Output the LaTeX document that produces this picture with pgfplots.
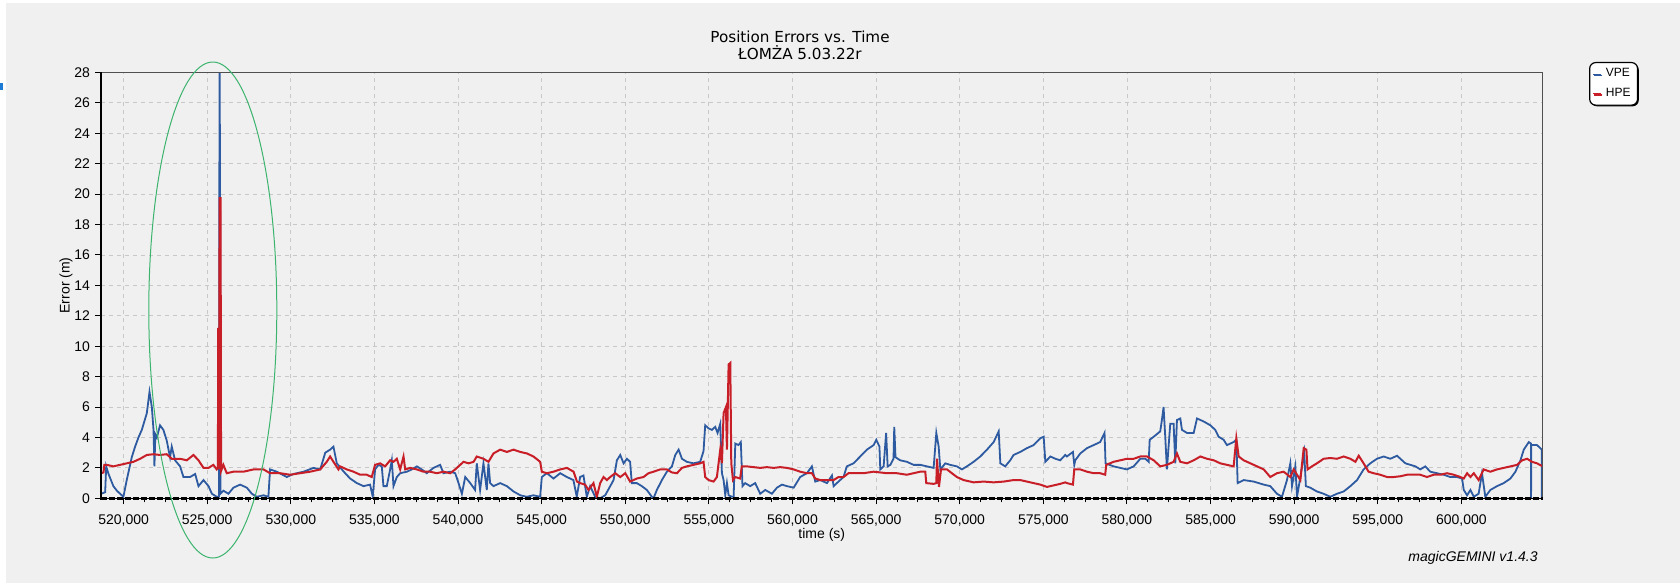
\documentclass[border=0pt]{standalone}
\usepackage{pgfplots}
\pgfplotsset{compat=1.18}
\usepackage{fontspec}
\setmainfont{Liberation Sans}
\newfontfamily\titlefont{DejaVu Sans}
\usetikzlibrary{shadows}
\definecolor{bggray}{HTML}{F0F0F0}
\definecolor{gridgray}{HTML}{C8C8C8}
\definecolor{vpe}{HTML}{2D5AA0}
\definecolor{hpe}{HTML}{C81E28}
\definecolor{ellgreen}{HTML}{3CB46E}
\definecolor{markblue}{HTML}{1C7CD5}
\definecolor{framegray}{HTML}{505050}
\begin{document}
\begin{tikzpicture}
\useasboundingbox (0pt,0pt) rectangle (840pt,293pt);
\fill[white] (0pt,0pt) rectangle (840pt,293pt);
\fill[bggray] (3pt,1.5pt) rectangle (840pt,291.5pt);
\fill[markblue] (0pt,248pt) rectangle (1.5pt,251.5pt);
\begin{axis}[
  at={(50.5pt,43.85pt)}, anchor=south west,
  scale only axis, width=720.75pt, height=212.9pt,
  xmin=518650, xmax=604850, ymin=0, ymax=28,
  xtick={520000,525000,...,600000},
  ytick={0,2,...,28},
  minor x tick num=3,
  scaled x ticks=false,
  /pgf/number format/assume math mode=true,
  /pgf/number format/fixed,
  /pgf/number format/1000 sep={,},
  x tick label style={font=\fontsize{7}{8}\selectfont, yshift=-1.5pt},
  y tick label style={font=\fontsize{7}{8}\selectfont, xshift=1pt},
  grid=major,
  major grid style={draw=gridgray, dash pattern=on 2pt off 2pt, line width=0.45pt},
  axis line style={draw=none},
  tick style={black, line width=0.5pt},
  tick align=outside, tick pos=left,
  major tick length=3pt, minor tick length=2pt,
  clip mode=individual,
  xlabel={time (s)}, ylabel={Error (m)},
  xlabel style={font=\fontsize{7}{8}\selectfont, at={(axis description cs:0.5,-0.0862)}, anchor=center},
  ylabel style={font=\fontsize{7}{8}\selectfont, at={(axis description cs:-0.0243,0.5)}, anchor=center},
  legend style={at={(axis description cs:1.0323,1.0247)}, anchor=north west,
    font=\fontsize{6}{7}\selectfont, draw=black, line width=0.6pt, fill=white,
    rounded corners=3pt, inner xsep=1.5pt, inner ysep=1pt, row sep=0pt,
    drop shadow={shadow xshift=0.6pt, shadow yshift=-0.6pt, fill=black, opacity=1}},
  legend cell align=left,
  legend image code/.code={\draw[#1, line width=0.6pt] (0pt,0pt) -- (4pt,0pt);},
]
\addplot[vpe, line width=0.9pt] coordinates {
(518660,0.3) (518900,0.4) (518960,2.1) (519100,1.6) (519390,0.8) (519600,0.5) (519790,0.3) (519990,0.1) (520190,1.2) (520490,2.7) (520690,3.4) (520890,4.0) (521090,4.5) (521390,5.6) (521550,7.0) (521690,6.0) (521790,4.5) (521845,2.1) (521900,4.2) (521990,4.0) (522180,4.8) (522380,4.5) (522580,3.8) (522780,2.7) (522880,3.4) (523080,2.5) (523380,2.1) (523580,1.4) (523980,1.4) (524280,1.6) (524480,0.8) (524780,1.2) (525080,0.8) (525280,0.3) (525570,0.1) (525700,0.1) (525740,29.5) (525770,20.8) (525790,0.3) (525970,0.5) (526270,0.3) (526570,0.7) (526970,0.9) (527370,0.7) (527670,0.3) (527970,0.1) (528370,0.2) (528660,0.1) (528760,1.9) (529160,1.75) (529760,1.4) (530160,1.6) (530760,1.75) (531360,2.0) (531760,1.9) (532060,3.0) (532350,3.2) (532550,3.4) (532750,2.3) (533050,1.9)
(533250,1.65) (533550,1.3) (533950,1.0) (534350,0.8) (534740,0.9) (534900,0.1) (535040,1.9) (535240,2.2) (535440,2.1) (535540,0.8) (535740,0.8) (535940,1.9) (536040,2.5) (536140,0.8) (536340,1.4) (536540,1.65) (536940,1.75) (537240,1.9) (537540,2.1) (537830,1.9) (538130,1.65) (538530,2.0) (538930,2.2) (539130,1.65) (539530,1.75) (539830,1.65) (540030,1.0) (540230,0.3) (540430,1.4) (540730,1.0) (541020,0.55) (541120,2.3) (541320,0.55) (541520,2.3) (541720,0.55) (541820,2.3) (541920,1.0) (542120,0.8) (542520,1.0) (542920,0.8) (543320,0.45) (543720,0.2) (544110,0.1) (544510,0.2) (544910,0.1) (545010,1.4) (545310,1.65) (545710,1.3) (546110,1.65) (546510,1.4) (546900,1.2) (547100,0.1) (547300,1.4)
(547500,1.5) (547700,0.1) (547900,0.8) (548200,0.1) (548500,0.0) (548800,0.2) (549100,0.8) (549300,1.2) (549500,2.5) (549700,2.85) (549900,2.3) (550100,2.6) (550290,2.4) (550390,1.0) (550690,1.0) (550990,0.8) (551290,0.55) (551590,0.1) (551690,0.0) (551890,0.55) (552190,1.2) (552490,1.75) (552790,2.1) (552990,2.85) (553190,3.2) (553390,2.6) (553680,2.4) (554080,2.3) (554480,2.4) (554680,3.1) (554780,4.8) (554980,4.6) (555180,4.5) (555380,4.7) (555520,4.3) (555680,4.9) (555780,1.65) (555880,1.2) (555980,0.2) (556080,1.0) (556180,0.2) (556380,0.1) (556480,0.1) (556580,3.6) (556770,3.5) (556910,3.7) (557010,0.8) (557170,1.0) (557470,0.8) (557770,1.0) (558070,0.3) (558370,0.55) (558770,0.3) (559070,0.7) (559370,0.9) (559670,0.8) (560070,0.7) (560460,1.4) (560860,1.65) (561160,2.1) (561360,1.1) (561660,1.2)
(562060,1.0) (562360,1.5) (562460,0.8) (562750,1.1) (563050,1.4) (563250,2.1) (563650,2.3) (564050,2.75) (564450,3.2) (564850,3.5) (565010,3.85) (565200,3.4) (565250,1.9) (565450,2.1) (565600,4.3) (565690,2.1) (565850,2.2) (566040,2.6) (566085,4.7) (566160,2.7) (566440,2.5) (566840,2.4) (567240,2.2) (567640,2.2) (568040,2.1) (568440,2.0) (568600,4.3) (568740,3.4) (568840,1.9) (569140,2.3) (569430,2.2) (569830,2.1) (570130,1.9) (570430,2.1) (570830,2.4) (571230,2.75) (571630,3.2) (572030,3.7) (572330,4.4) (572430,2.3) (572720,2.1) (573020,2.5) (573220,2.85) (573620,3.05) (574020,3.3) (574420,3.5) (574820,3.95) (575020,4.05) (575120,2.4) (575420,2.75) (575720,2.6) (576010,2.5) (576310,2.85)
(576410,2.75) (576770,3.05) (576850,2.2) (576910,2.5) (577210,2.95) (577610,3.3) (578010,3.5) (578400,3.7) (578660,4.3) (578720,2.3) (579200,2.1) (579600,2.0) (580000,1.9) (580400,2.1) (580800,2.6) (581100,2.6) (581300,2.4) (581360,3.85) (581600,4.05) (581990,4.4) (582090,5.15) (582190,6.0) (582290,4.05) (582390,1.9) (582590,4.9) (582790,4.9) (582890,2.3) (582990,5.15) (583190,5.25) (583290,4.5) (583590,4.3) (583990,4.3) (584190,5.25) (584590,5.05) (584990,4.8) (585280,4.5) (585480,4.05) (585780,3.85) (585980,3.5) (586380,3.7) (586540,3.85) (586620,1.0) (586980,1.2) (587580,1.1) (588180,0.9) (588570,0.8) (588970,0.3) (589270,0.1) (589570,1.2) (589770,2.3) (589870,0.8) (590070,2.1) (590170,0.1) (590370,1.4)
(590600,3.0) (590700,0.8) (590960,0.7) (591360,0.45) (591760,0.3) (592160,0.1) (592560,0.3) (592960,0.45) (593360,0.8) (593760,1.2) (594150,1.9) (594550,2.3) (594950,2.6) (595350,2.75) (595750,2.6) (596150,2.8) (596350,2.6) (596650,2.3) (596950,2.2) (597250,2.1) (597540,1.9) (597840,2.1) (598140,1.75) (598540,1.65) (598940,1.55) (599340,1.4) (599740,1.4) (600040,1.3) (600140,0.55) (600340,0.2) (600540,0.55) (600740,0.1) (601030,0.3) (601230,1.65) (601430,0.1) (601730,0.55) (602130,0.8) (602530,1.0) (602930,1.3) (603230,1.75) (603530,2.5) (603730,3.2) (604030,3.7) (604160,3.6) (604165,0.0) (604180,3.5) (604520,3.5) (604720,3.3) (604800,3.2) (604805,0.0) (604820,3.0) (604860,3.0)
};
\addlegendentry{VPE}
\addplot[hpe, line width=1pt] coordinates {
(518655,1.65) (518800,1.7) (518850,2.2) (518990,2.2) (519390,2.1) (519790,2.2) (520190,2.3) (520590,2.4) (520990,2.6) (521390,2.85) (521790,2.9) (522180,2.85) (522580,2.9) (522880,2.6) (523380,2.6) (523780,2.5) (524180,2.85) (524480,2.5) (524780,2.0) (525080,2.0) (525370,2.2) (525570,1.9) (525640,2.0) (525660,11.2) (525675,8.2) (525690,11.0) (525705,1.9) (525730,15.0) (525750,19.8) (525775,14.8) (525800,19.8) (525830,1.8) (525970,2.2) (526170,1.65) (526570,1.75) (527170,1.75) (527770,1.9) (528370,1.9) (528760,1.65) (529360,1.65) (529960,1.55) (530560,1.65) (531160,1.75) (531760,1.9) (532150,2.4) (532350,2.75) (532550,2.4) (532850,1.9) (532950,2.1) (533350,1.9) (533750,1.75) (534150,1.55) (534540,1.55) (534840,1.4) (535040,2.2) (535340,2.3) (535640,2.1) (535940,2.5) (536140,2.4) (536340,2.6) (536540,1.9) (536740,2.75) (536840,1.9) (537140,2.0) (537540,1.9) (537930,1.75) (538330,1.75) (538730,1.65) (539130,1.75) (539530,1.65) (539830,1.9) (540130,2.2) (540330,2.4) (540630,2.3) (540930,2.4) (541120,2.75) (541520,2.6) (541820,2.4) (542120,2.95) (542520,3.2) (542920,3.05) (543320,3.2) (543720,3.05) (544120,2.95) (544510,2.75) (544910,2.4) (545010,1.75) (545310,1.65) (545710,1.75) (546110,1.9) (546510,2.0) (546910,1.75) (547110,1.1) (547300,1.0)
(547600,0.9) (547800,0.55) (548100,1.0) (548300,0.1) (548500,1.0) (548700,1.4) (548900,1.2) (549100,1.4) (549400,1.65) (549700,1.4) (550000,1.65) (550290,1.1) (550690,1.3) (551090,1.4) (551390,1.65) (551690,1.75) (552090,1.9) (552490,1.9) (552790,1.7) (553090,1.65) (553390,2.0) (553680,2.1) (554080,2.2) (554480,2.3) (554680,2.4) (554780,1.4) (554980,1.2) (555280,1.1) (555480,1.4) (555680,3.2) (555780,2.3) (555880,5.6) (556020,6.0) (556080,3.2) (556180,8.8) (556280,8.9) (556340,2.3) (556440,1.2) (556580,1.4) (556870,1.3) (556970,2.1) (557270,2.1) (557670,2.05) (558070,2.0) (558470,2.05) (558870,2.0) (559270,2.05) (559670,2.0) (560070,1.9) (560460,1.75) (560860,1.65) (561160,1.65) (561360,1.3) (561660,1.2)
(562060,1.2) (562460,1.2) (562750,1.4) (563050,1.4) (563350,1.65) (563650,1.65) (564250,1.65) (564850,1.75) (565250,1.7) (565650,1.65) (566240,1.65) (566840,1.55) (567240,1.65) (567640,1.75) (567940,1.75) (568000,1.0) (568440,0.95) (568600,1.0) (568640,2.6) (568760,0.75) (568880,1.9) (569240,1.9) (569530,1.65) (569830,1.4) (570230,1.2) (570830,1.05) (571430,1.1) (572030,1.05) (572630,1.1) (573220,1.2) (573620,1.2) (574220,1.05) (574820,0.9) (575220,0.75) (575620,0.85) (576010,0.95) (576310,1.05)
(576410,1.0) (576770,0.9) (576850,1.9) (577210,1.9) (577610,1.75) (578010,1.65) (578400,1.65) (578700,1.55) (578760,2.2) (579200,2.4) (579600,2.5) (580000,2.6) (580400,2.6) (580800,2.75) (581200,2.75) (581600,2.5) (581990,2.1) (582390,2.2) (582790,2.4) (582990,2.95) (583190,2.4) (583590,2.3) (583990,2.5) (584390,2.75) (584790,2.6) (585190,2.5) (585580,2.3) (585980,2.2) (586380,2.1) (586540,3.95) (586680,2.75) (586980,2.5) (587380,2.3) (587780,2.1) (588180,1.9) (588570,1.4) (588970,1.65) (589370,1.75) (589770,1.4) (589970,1.9) (590370,1.2)
(590570,3.3) (590730,3.2) (590800,1.9) (591060,2.1) (591360,2.3) (591760,2.6) (592160,2.65) (592560,2.6) (592960,2.75) (593360,2.6) (593660,2.4) (593860,2.8) (594150,2.3) (594450,1.75) (594750,1.65) (595150,1.55) (595550,1.4) (595950,1.4) (596350,1.45) (596750,1.55) (597150,1.55) (597540,1.55) (597940,1.4) (598340,1.55) (598740,1.55) (599140,1.65) (599540,1.55) (599940,1.4) (600140,1.3) (600340,1.65) (600540,1.4) (600740,1.65) (601030,1.2) (601330,1.9) (601730,1.75) (602130,1.9) (602530,2.0) (602930,2.1) (603330,2.2) (603630,2.5) (603930,2.6) (604220,2.4) (604520,2.3) (604860,2.1)
};
\addlegendentry{HPE}
\draw[framegray, line width=0.8pt] (rel axis cs:0,1) -- (rel axis cs:1,1) -- (rel axis cs:1,0);
\draw[black, line width=0.5pt] (rel axis cs:0,0) -- (rel axis cs:1,0);
\draw[black, line width=1.3pt, dash pattern=on 3pt off 1pt] (rel axis cs:0,0) -- (rel axis cs:1,0);
\draw[black, line width=1.3pt] (rel axis cs:0,-0.003) -- (rel axis cs:0,1.002);
\end{axis}
\node[font=\titlefont\fontsize{7.6}{8.5}\selectfont, align=center, anchor=center] at (400pt,270.25pt) {Position Errors vs. Time\\ŁOMŻA 5.03.22r};
\draw[ellgreen, line width=0.5pt] (106.4pt,138pt) ellipse [x radius=32pt, y radius=124pt];
\node[font=\itshape\fontsize{7}{8}\selectfont, anchor=east, inner sep=0pt] at (769pt,14pt) {magicGEMINI v1.4.3};
\end{tikzpicture}
\end{document}
